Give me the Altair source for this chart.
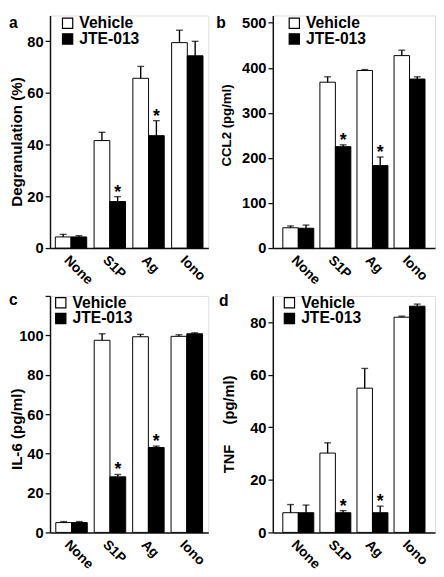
import altair as alt
import pandas as pd

FONT = "Liberation Sans"

categories = ["None", "S1P", "Ag", "Iono"]
groups = ["Vehicle", "JTE-013"]
significant = ["S1P", "Ag"]

# a: Degranulation (%)
degran_vehicle = [4.3, 41.6, 65.7, 79.5]
degran_vehicle_err = [5.3, 44.8, 70.3, 84.3]
degran_jte = [4.3, 18.0, 43.5, 74.4]
degran_jte_err = [4.8, 19.9, 49.3, 80.0]

# b: CCL2 (pg/ml)
ccl2_vehicle = [45, 368, 394, 427]
ccl2_vehicle_err = [49, 380, 396, 439]
ccl2_jte = [44, 225, 183, 375]
ccl2_jte_err = [51, 229, 202, 380]

# c: IL-6 (pg/ml)
il6_vehicle = [5.0, 97.5, 99.3, 99.5]
il6_vehicle_err = [5.5, 100.8, 100.5, 100.3]
il6_jte = [5.0, 28.2, 43.1, 100.8]
il6_jte_err = [5.5, 29.4, 43.8, 101.3]

# d: TNF (pg/ml)
tnf_vehicle = [7.5, 30.2, 54.9, 81.9]
tnf_vehicle_err = [10.6, 34.1, 62.4, 82.3]
tnf_jte = [7.5, 7.5, 7.5, 86.1]
tnf_jte_err = [10.4, 8.3, 10.0, 86.9]


def make_df(veh, veh_err, jte, jte_err):
    rows = []
    for i, c in enumerate(categories):
        rows.append(dict(cat=c, grp="Vehicle", value=veh[i], err=veh_err[i], star=""))
        rows.append(dict(cat=c, grp="JTE-013", value=jte[i], err=jte_err[i],
                         star="*" if c in significant else ""))
    return pd.DataFrame(rows)


def panel(df, letter, ytitle, title_size, ymax, tick_max, ystep, hide_test, width, height,
          pin, pout, title_x, title_y, leg_x, leg_y, let_x, let_y):
    xscale = alt.Scale(paddingInner=pin, paddingOuter=pout)
    xaxis = alt.Axis(title=None, labelAngle=45, ticks=False, tickSize=0,
                     labelPadding=5, labelFontSize=14, labelFontWeight="bold",
                     labelColor="black", labelFont=FONT, domainColor="#111",
                     domainWidth=1.5, grid=False)
    x = alt.X("cat:N", sort=categories, scale=xscale, axis=xaxis)
    xo = alt.XOffset("grp:N", sort=groups,
                     scale=alt.Scale(paddingInner=0, paddingOuter=0))
    yscale = alt.Scale(domain=[0, ymax], nice=False, zero=True)
    yaxis = alt.Axis(values=list(range(0, tick_max + 1, ystep)),
                     labelExpr=f"({hide_test}) ? '' : datum.label",
                     labelFontSize={"condition": {"test": hide_test, "value": 0}, "value": 15},
                     title=ytitle, titleX=title_x, titleY=title_y, titleAngle=-90,
                     titleBaseline="middle", titleAlign="center",
                     titleFont=FONT, titleFontSize=title_size, titleFontWeight="bold",
                     titleColor="black", labelFont=FONT,
                     labelFontWeight="bold", labelColor="black", labelPadding=2,
                     tickSize=5, tickColor="#111", tickWidth=1.3,
                     domainColor="#111", domainWidth=1.5, grid=False)
    base = alt.Chart(df)
    bars = base.mark_bar(stroke="black", strokeWidth=1).encode(
        x=x, xOffset=xo,
        y=alt.Y("value:Q", scale=yscale, axis=yaxis),
        color=alt.Color("grp:N", sort=groups,
                        scale=alt.Scale(domain=groups, range=["white", "black"]),
                        legend=alt.Legend(title=None, orient="none", legendX=leg_x,
                                          legendY=leg_y, symbolType="square",
                                          symbolSize=110, symbolStrokeColor="black",
                                          symbolStrokeWidth=1.2, labelFont=FONT,
                                          labelFontSize=16, labelFontWeight="bold",
                                          labelColor="black", labelOffset=4,
                                          rowPadding=0, padding=0)),
    )
    rules = base.mark_rule(color="black", strokeWidth=1.4).encode(
        x=alt.X("cat:N", sort=categories), xOffset=alt.XOffset("grp:N", sort=groups),
        y="value:Q", y2="err:Q")
    caps = base.mark_tick(color="black", thickness=1.4, size=7).encode(
        x=alt.X("cat:N", sort=categories), xOffset=alt.XOffset("grp:N", sort=groups),
        y="err:Q")
    stars = base.transform_filter("datum.star != ''").mark_text(
        font=FONT, fontSize=18, fontWeight="bold", color="black",
        baseline="alphabetic", align="center", dy=1).encode(
        x=alt.X("cat:N", sort=categories), xOffset=alt.XOffset("grp:N", sort=groups),
        y="err:Q", text="star:N")
    let = alt.Chart(pd.DataFrame({"t": [letter]})).mark_text(
        font=FONT, fontSize=16, fontWeight="bold", color="black",
        align="left", baseline="alphabetic").encode(
        text="t:N", x=alt.value(let_x), y=alt.value(let_y))
    return alt.layer(bars, rules, caps, stars, let).properties(width=width, height=height)


H1 = 238   # row 1: plot top at page 8, zero at 246
H2 = 242   # row 2: plot top at 295, zero at 537

pa = panel(make_df(degran_vehicle, degran_vehicle_err, degran_jte, degran_jte_err),
           "a", "Degranulation (%)", 15.5, 90, 90, 10, "datum.value % 20 != 0",
           162, H1, 0.19, 0.137, -34, 129, 10, 0, -42, 13)
pb = panel(make_df(ccl2_vehicle, ccl2_vehicle_err, ccl2_jte, ccl2_jte_err),
           "b", "CCL2 (pg/ml)", 13.5, 516, 500, 100, "datum.value > 500",
           166, H1, 0.165, 0.27, -47, 112, 14, 0, -58, 13)
pc = panel(make_df(il6_vehicle, il6_vehicle_err, il6_jte, il6_jte_err),
           "c", "IL-6 (pg/ml)", 15.5, 120, 120, 20, "datum.value > 100",
           162, H2, 0.18, 0.15, -34, 136, 3, -1, -42, 9)
pd_ = panel(make_df(tnf_vehicle, tnf_vehicle_err, tnf_jte, tnf_jte_err),
            "d", "TNF\u00a0\u00a0\u00a0\u00a0\u00a0(pg/ml)", 15, 90, 90, 10, "datum.value % 20 != 0",
            166, H2, 0.165, 0.27, -45, 131, 9, -1, -55, 10)

res = dict(x="independent", y="independent", color="independent", xOffset="independent")

chart = alt.concat(pa, pb, pc, pd_, columns=2, spacing={"row": 49, "column": 66},
                   bounds="flush", align="each").resolve_scale(**res).resolve_legend(
    color="independent").properties(padding=0, background="white").configure_view(
    stroke=None).configure(font=FONT)

chart.save("out.html", embed_options={"renderer": "svg", "actions": False})
